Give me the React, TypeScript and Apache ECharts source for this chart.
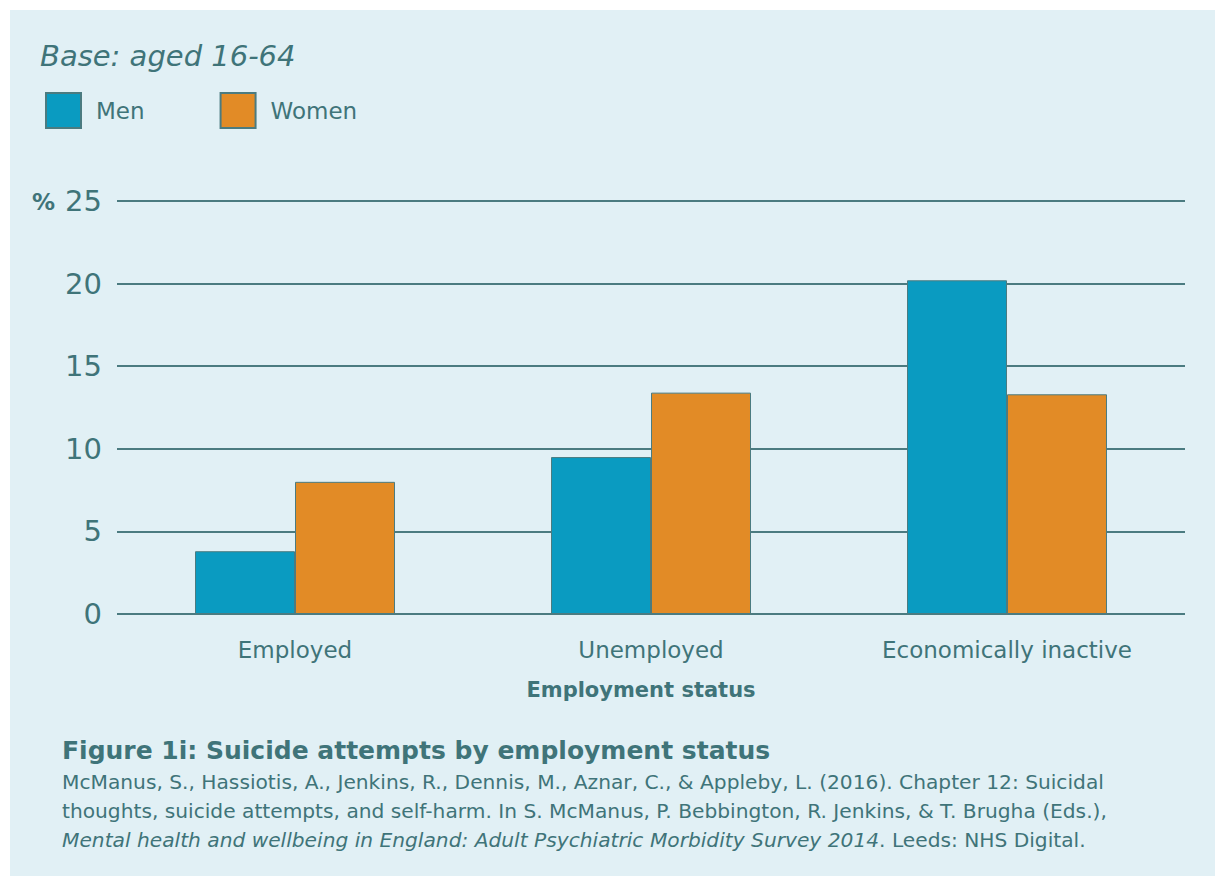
import React, { useEffect, useRef } from "react";
import * as echarts from "echarts";

const categories = ["Employed", "Unemployed", "Economically inactive"];
const menValues = [3.8, 9.5, 20.2];
const womenValues = [8.0, 13.4, 13.3];
const seriesNames = ["Men", "Women"];

const TEXT = "#3f7479";
const LINE = "#4b7b80";
const MEN = "#0a9bc1";
const WOMEN = "#e28b26";
const BG = "#e1f0f5";
const FONT = "'DejaVu Sans', sans-serif";

export default function App() {
  const ref = useRef<HTMLDivElement>(null);
  useEffect(() => {
    if (!ref.current) return;
    const chart = echarts.init(ref.current, null, { renderer: "svg" });
    chart.setOption({
      animation: false,
      backgroundColor: "#ffffff",
      textStyle: { fontFamily: FONT },
      graphic: [
        {
          type: "rect",
          z: -10,
          shape: { x: 10, y: 10, width: 1205, height: 866 },
          style: { fill: BG },
          silent: true,
        },
        {
          type: "text",
          x: 40,
          y: 56,
          style: {
            text: "Base: aged 16-64",
            fill: TEXT,
            font: `italic 29px ${FONT}`,
            verticalAlign: "middle",
          },
        },
        {
          type: "text",
          x: 32,
          y: 202,
          style: {
            text: "%",
            fill: TEXT,
            font: `bold 23px ${FONT}`,
            verticalAlign: "middle",
          },
        },
        {
          type: "text",
          x: 62,
          y: 750,
          style: {
            text: "Figure 1i: Suicide attempts by employment status",
            fill: TEXT,
            font: `bold 25px ${FONT}`,
            verticalAlign: "middle",
          },
        },
        {
          type: "text",
          x: 62,
          y: 782,
          style: {
            text:
              "McManus, S., Hassiotis, A., Jenkins, R., Dennis, M., Aznar, C., & Appleby, L. (2016). Chapter 12: Suicidal",
            fill: TEXT,
            font: `20.2px ${FONT}`,
            verticalAlign: "middle",
          },
        },
        {
          type: "text",
          x: 62,
          y: 811,
          style: {
            text:
              "thoughts, suicide attempts, and self-harm. In S. McManus, P. Bebbington, R. Jenkins, & T. Brugha (Eds.),",
            fill: TEXT,
            font: `20.2px ${FONT}`,
            verticalAlign: "middle",
          },
        },
        {
          type: "text",
          x: 62,
          y: 840,
          style: {
            rich: {
              i: { fill: TEXT, font: `italic 20.2px ${FONT}` },
              n: { fill: TEXT, font: `20.2px ${FONT}` },
            },
            text:
              "{i|Mental health and wellbeing in England: Adult Psychiatric Morbidity Survey 2014}{n|. Leeds: NHS Digital.}",
            verticalAlign: "middle",
          },
        },
      ],
      legend: {
        left: 45,
        top: 92,
        padding: 0,
        itemWidth: 35,
        itemHeight: 35,
        itemGap: 75,
        icon: "rect",
        data: seriesNames,
        textStyle: {
          color: TEXT,
          fontSize: 23,
          fontFamily: FONT,
          padding: [0, 0, 0, 10],
        },
      },
      grid: { left: 117, right: 30, top: 201, bottom: 262, containLabel: false },
      xAxis: {
        type: "category",
        data: categories,
        axisLine: { show: false },
        axisTick: { show: false },
        axisLabel: {
          color: TEXT,
          fontSize: 23,
          fontFamily: FONT,
          margin: 24,
        },
        name: "Employment status",
        nameLocation: "middle",
        nameGap: 65,
        nameTextStyle: {
          color: TEXT,
          fontSize: 21,
          fontWeight: "bold",
          fontFamily: FONT,
          padding: [0, 20, 0, 0],
        },
      },
      yAxis: {
        type: "value",
        min: 0,
        max: 25,
        interval: 5,
        axisLine: { show: false },
        axisTick: { show: false },
        axisLabel: {
          color: TEXT,
          fontSize: 29,
          fontFamily: FONT,
          margin: 15,
        },
        splitLine: { lineStyle: { color: LINE, width: 2 } },
      },
      series: [
        {
          name: seriesNames[0],
          type: "bar",
          data: menValues,
          barWidth: 100,
          barGap: "0%",
          itemStyle: { color: MEN, borderColor: LINE, borderWidth: 1 },
        },
        {
          name: seriesNames[1],
          type: "bar",
          data: womenValues,
          barWidth: 100,
          barGap: "0%",
          itemStyle: { color: WOMEN, borderColor: LINE, borderWidth: 1 },
        },
      ],
    });
    return () => chart.dispose();
  }, []);
  return (
    <div
      ref={ref}
      style={{ position: "fixed", left: 0, top: 0, width: 1215, height: 876 }}
    />
  );
}
